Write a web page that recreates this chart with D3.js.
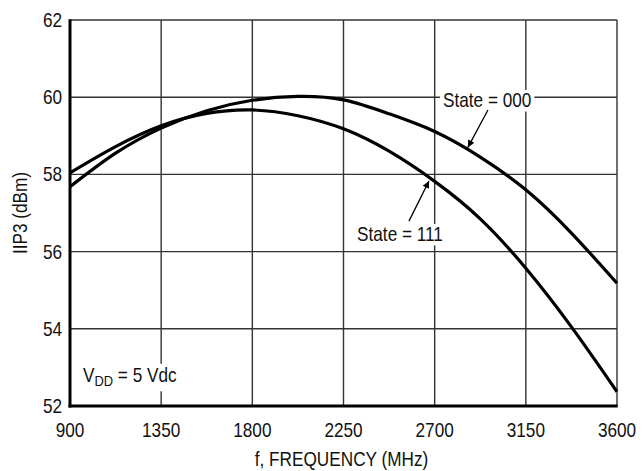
<!DOCTYPE html>
<html>
<head>
<meta charset="utf-8">
<script src="https://cdn.jsdelivr.net/npm/d3@7"></script>
<style>
html,body{margin:0;padding:0;background:#fff;}
svg text{font-family:"Liberation Sans",Arial,Helvetica,sans-serif;fill:#111;}
</style>
</head>
<body>
<svg id="chart" width="643" height="471"></svg>
<script>
const freq = [900,1125,1350,1575,1800,2025,2250,2475,2700,2925,3150,3375,3600];
const state000 = [57.68,58.55,59.2,59.65,59.92,60.02,59.93,59.57,59.11,58.45,57.60,56.48,55.18];
const state111 = [58.04,58.72,59.26,59.58,59.67,59.52,59.18,58.60,57.82,56.85,55.57,54.05,52.37];
const xTicks = [900,1350,1800,2250,2700,3150,3600];
const yTicks = [52,54,56,58,60,62];

(function(){
const svg = d3.select("#chart");
const pL = 70, pR = 617, pT = 20, pB = 406;
const SX = 0.86, FS = 20;
const x = d3.scaleLinear().domain([900,3600]).range([pL,pR]);
const y = d3.scaleLinear().domain([52,62]).range([pB,pT]);

// condensed text helper
function ctext(parent, px, py, txt, anchor, rot){
  return parent.append("text")
    .attr("transform",`translate(${px},${py})${rot?` rotate(${rot})`:""} scale(${SX},1)`)
    .attr("font-size",FS).attr("text-anchor",anchor||"start").text(txt);
}

// grid
svg.append("g").selectAll("line").data(xTicks).join("line")
  .attr("x1",d=>x(d)).attr("x2",d=>x(d)).attr("y1",pT).attr("y2",pB)
  .attr("stroke","#333").attr("stroke-width",1.4);
svg.append("g").selectAll("line").data(yTicks).join("line")
  .attr("x1",pL).attr("x2",pR).attr("y1",d=>y(d)).attr("y2",d=>y(d))
  .attr("stroke","#333").attr("stroke-width",1.4);

// axes (thick left & bottom)
svg.append("line").attr("x1",pL).attr("x2",pL).attr("y1",pT-0.7).attr("y2",pB+1.5)
  .attr("stroke","#000").attr("stroke-width",3);
svg.append("line").attr("x1",pL-1.5).attr("x2",pR+0.7).attr("y1",pB).attr("y2",pB)
  .attr("stroke","#000").attr("stroke-width",3);

// tick labels
const gy = svg.append("g");
yTicks.forEach(d=>ctext(gy, pL-8, y(d)+7, d, "end"));
const gx = svg.append("g");
xTicks.forEach(d=>ctext(gx, x(d), 437, d, "middle"));

// axis titles
ctext(svg, (pL+pR)/2-2, 466, "f, FREQUENCY (MHz)", "middle");
ctext(svg, 27, (pT+pB)/2, "IIP3 (dBm)", "middle", -90);

// curves
const line = d3.line().x(d=>x(d[0])).y(d=>y(d[1])).curve(d3.curveNatural);
[state000,state111].forEach(s=>{
  svg.append("path").datum(freq.map((f,i)=>[f,s[i]]))
    .attr("d",line).attr("fill","none").attr("stroke","#000").attr("stroke-width",3.2);
});

// annotations with white backing
function label(txt, fx, fy){
  const g = svg.append("g");
  const t = ctext(g, x(fx), y(fy), txt, "start");
  const b = t.node().getBBox();
  g.insert("rect","text").attr("x",x(fx)+b.x*SX-3).attr("y",y(fy)+b.y+1)
    .attr("width",b.width*SX+6).attr("height",b.height-1).attr("fill","#fff");
}
label("State = 000", 2741, 59.74);
label("State = 111", 2317, 56.27);

// V_DD label
{
  const g = svg.append("g");
  const t = g.append("text").attr("transform",`translate(83,${y(52.62)}) scale(${SX},1)`).attr("font-size",FS);
  t.append("tspan").text("V");
  t.append("tspan").attr("font-size",15).attr("dy",4).text("DD");
  t.append("tspan").attr("dy",-4).text(" = 5 Vdc");
  const b = t.node().getBBox();
  g.insert("rect","text").attr("x",83+b.x*SX-3).attr("y",y(52.62)+b.y).attr("width",b.width*SX+6).attr("height",b.height+2).attr("fill","#fff");
}

// arrows
svg.append("defs").append("marker").attr("id","ah").attr("viewBox","0 0 10 10")
  .attr("refX",10).attr("refY",5).attr("markerWidth",11).attr("markerHeight",7)
  .attr("markerUnits","userSpaceOnUse").attr("orient","auto")
  .append("path").attr("d","M0,0 L10,5 L0,10 Z").attr("fill","#000");
const arrows = [
  {from:[2963,59.67], to:[2864,58.70]},
  {from:[2573,56.79], to:[2672,57.83]}
];
svg.append("g").selectAll("line").data(arrows).join("line")
  .attr("x1",d=>x(d.from[0])).attr("y1",d=>y(d.from[1]))
  .attr("x2",d=>x(d.to[0])).attr("y2",d=>y(d.to[1]))
  .attr("stroke","#000").attr("stroke-width",1.3).attr("marker-end","url(#ah)");
})();
</script>
</body>
</html>
